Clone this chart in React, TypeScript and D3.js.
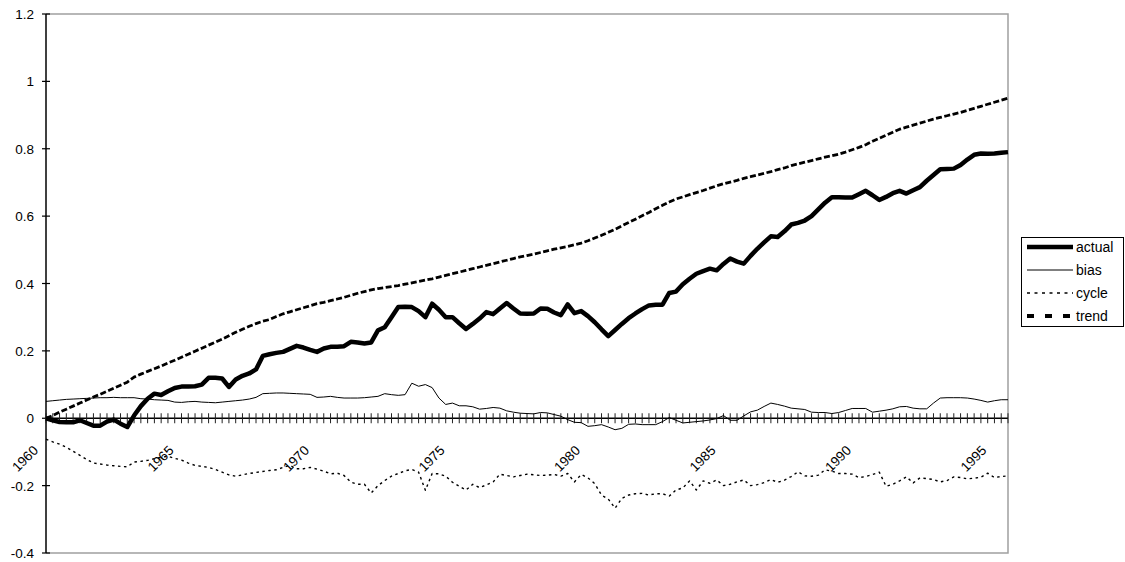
import React from "react";
import * as d3 from "d3";

// Quarterly observations, 1960Q1 onward
const startYear = 1960;
const yearLabels = ["1960", "1965", "1970", "1975", "1980", "1985", "1990", "1995"];
const yTicks = [-0.4, -0.2, 0, 0.2, 0.4, 0.6, 0.8, 1, 1.2];

const actual = [
  0.000, -0.006, -0.011, -0.012, -0.012, -0.006, -0.014, -0.022, -0.022, -0.010,
  -0.004, -0.016, -0.026, 0.008, 0.036, 0.058, 0.073, 0.069, 0.080, 0.090,
  0.094, 0.094, 0.095, 0.100, 0.120, 0.120, 0.118, 0.093, 0.115, 0.126,
  0.133, 0.145, 0.185, 0.190, 0.194, 0.197, 0.206, 0.215, 0.210, 0.203,
  0.197, 0.207, 0.212, 0.212, 0.214, 0.227, 0.225, 0.222, 0.225, 0.261,
  0.270, 0.300, 0.330, 0.331, 0.330, 0.318, 0.300, 0.340, 0.322, 0.300,
  0.300, 0.282, 0.265, 0.280, 0.296, 0.315, 0.309, 0.326, 0.342, 0.326,
  0.311, 0.310, 0.311, 0.326, 0.325, 0.314, 0.306, 0.338, 0.312, 0.318,
  0.303, 0.285, 0.264, 0.244, 0.262, 0.280, 0.297, 0.311, 0.324, 0.335,
  0.337, 0.337, 0.372, 0.376, 0.398, 0.414, 0.429, 0.437, 0.444, 0.439,
  0.458, 0.474, 0.465, 0.459, 0.482, 0.503, 0.522, 0.540, 0.538, 0.555,
  0.575, 0.580, 0.587, 0.600, 0.620, 0.640, 0.656, 0.656, 0.655, 0.655,
  0.665, 0.675, 0.662, 0.648, 0.657, 0.668, 0.675, 0.667, 0.677, 0.686,
  0.705, 0.722, 0.739, 0.740, 0.741, 0.752, 0.768, 0.782, 0.786, 0.785,
  0.786, 0.788, 0.790,
];

const bias = [
  0.050, 0.052, 0.054, 0.056, 0.057, 0.058, 0.059, 0.060, 0.061, 0.061,
  0.062, 0.061, 0.061, 0.061, 0.058, 0.057, 0.055, 0.054, 0.053, 0.048,
  0.047, 0.049, 0.050, 0.048, 0.047, 0.046, 0.048, 0.050, 0.052, 0.054,
  0.057, 0.062, 0.073, 0.074, 0.075, 0.075, 0.074, 0.073, 0.072, 0.071,
  0.062, 0.063, 0.065, 0.062, 0.060, 0.060, 0.060, 0.061, 0.063, 0.065,
  0.073, 0.070, 0.068, 0.070, 0.104, 0.095, 0.100, 0.091, 0.060, 0.041,
  0.045, 0.037, 0.037, 0.034, 0.027, 0.029, 0.032, 0.030, 0.022, 0.018,
  0.015, 0.014, 0.013, 0.017, 0.016, 0.011, 0.006, -0.004, -0.012, -0.013,
  -0.024, -0.022, -0.019, -0.026, -0.034, -0.030, -0.018, -0.017, -0.019, -0.019,
  -0.019, -0.010, 0.002, -0.006, -0.014, -0.012, -0.010, -0.008, -0.005, -0.001,
  0.008, -0.006, -0.006, 0.007, 0.019, 0.024, 0.035, 0.045, 0.041, 0.036,
  0.030, 0.028, 0.026, 0.018, 0.017, 0.017, 0.014, 0.017, 0.023, 0.029,
  0.029, 0.029, 0.018, 0.021, 0.024, 0.028, 0.034, 0.035, 0.030, 0.028,
  0.028, 0.045, 0.060, 0.061, 0.061, 0.061, 0.060, 0.057, 0.053, 0.048,
  0.052, 0.055, 0.055,
];

const cycle = [
  -0.062, -0.070, -0.077, -0.086, -0.098, -0.110, -0.122, -0.133, -0.136, -0.139,
  -0.141, -0.143, -0.144, -0.130, -0.128, -0.125, -0.120, -0.116, -0.113, -0.119,
  -0.124, -0.133, -0.140, -0.143, -0.146, -0.152, -0.160, -0.168, -0.172, -0.168,
  -0.164, -0.161, -0.158, -0.155, -0.153, -0.146, -0.140, -0.150, -0.150, -0.146,
  -0.151, -0.157, -0.165, -0.163, -0.170, -0.190, -0.196, -0.196, -0.222, -0.200,
  -0.185, -0.172, -0.164, -0.156, -0.152, -0.160, -0.214, -0.164, -0.165, -0.172,
  -0.190, -0.202, -0.213, -0.196, -0.206, -0.198, -0.189, -0.166, -0.170, -0.174,
  -0.170, -0.166, -0.168, -0.170, -0.169, -0.167, -0.172, -0.164, -0.189, -0.167,
  -0.177, -0.194, -0.228, -0.240, -0.267, -0.238, -0.228, -0.224, -0.223, -0.228,
  -0.224, -0.224, -0.231, -0.213, -0.207, -0.186, -0.213, -0.186, -0.193, -0.183,
  -0.200, -0.196, -0.189, -0.183, -0.200, -0.197, -0.191, -0.182, -0.190, -0.184,
  -0.173, -0.159, -0.171, -0.172, -0.169, -0.153, -0.157, -0.164, -0.164, -0.166,
  -0.176, -0.173, -0.167, -0.160, -0.202, -0.196, -0.186, -0.174, -0.192, -0.177,
  -0.179, -0.182, -0.189, -0.185, -0.174, -0.176, -0.180, -0.178, -0.175, -0.163,
  -0.176, -0.173, -0.171,
];

const trend = [
  0.000, 0.008, 0.018, 0.027, 0.036, 0.045, 0.054, 0.063, 0.071, 0.080,
  0.089, 0.098, 0.107, 0.122, 0.131, 0.139, 0.147, 0.155, 0.164, 0.172,
  0.181, 0.190, 0.199, 0.208, 0.217, 0.226, 0.235, 0.245, 0.255, 0.264,
  0.273, 0.281, 0.288, 0.293, 0.302, 0.310, 0.316, 0.322, 0.328, 0.334,
  0.340, 0.344, 0.349, 0.354, 0.359, 0.365, 0.371, 0.376, 0.381, 0.385,
  0.388, 0.391, 0.394, 0.398, 0.402, 0.406, 0.410, 0.414, 0.419, 0.424,
  0.429, 0.434, 0.439, 0.444, 0.449, 0.454, 0.459, 0.464, 0.469, 0.474,
  0.479, 0.483, 0.487, 0.492, 0.497, 0.502, 0.506, 0.510, 0.515, 0.520,
  0.527, 0.535, 0.543, 0.552, 0.561, 0.571, 0.581, 0.591, 0.601, 0.611,
  0.622, 0.632, 0.642, 0.651, 0.657, 0.664, 0.670, 0.676, 0.683, 0.690,
  0.696, 0.701, 0.706, 0.712, 0.717, 0.722, 0.727, 0.732, 0.738, 0.743,
  0.750, 0.755, 0.760, 0.765, 0.770, 0.775, 0.779, 0.784, 0.790, 0.797,
  0.804, 0.812, 0.822, 0.831, 0.840, 0.849, 0.858, 0.864, 0.870, 0.876,
  0.882, 0.888, 0.893, 0.898, 0.903, 0.908, 0.914, 0.920, 0.926, 0.932,
  0.938, 0.944, 0.950,
];

const seriesNames = ["actual", "bias", "cycle", "trend"];

const W = 1125;
const H = 562;
const plot = { left: 46, right: 1008, top: 14, bottom: 553 };
const FONT = "'Liberation Sans', Arial, Helvetica, sans-serif";

type Style = { width: number; dash?: string; legendWidth: number; legendDash?: string };
const styles: Record<string, Style> = {
  actual: { width: 4.5, legendWidth: 4.5 },
  bias: { width: 1, legendWidth: 1 },
  cycle: { width: 1.4, dash: "2.5 3.5", legendWidth: 1.4, legendDash: "3 4.5" },
  trend: { width: 2.8, dash: "6 2.5", legendWidth: 4, legendDash: "7 11" },
};

export default function App() {
  const n = actual.length;
  const x = d3.scaleLinear().domain([0, n - 1]).range([plot.left, plot.right]);
  const y = d3.scaleLinear().domain([-0.4, 1.2]).range([plot.bottom, plot.top]);
  const line = d3
    .line<number>()
    .x((_, i) => x(i))
    .y((d) => y(d));

  const data: Record<string, number[]> = { actual, bias, cycle, trend };
  const y0 = y(0);
  const idx = d3.range(n);

  return (
    <svg
      width={W}
      height={H}
      style={{ position: "absolute", left: 0, top: 0, background: "#fff" }}
      fontFamily={FONT}
    >
      <rect x={0} y={0} width={W} height={H} fill="#fff" />
      {/* plot area border */}
      <path
        d={`M${plot.left},${plot.top}H${plot.right}V${plot.bottom}H${plot.left}`}
        fill="none"
        stroke="#a0a0a0"
        strokeWidth={1.5}
      />
      {/* value axis */}
      <line x1={plot.left} x2={plot.left} y1={plot.top} y2={plot.bottom} stroke="#000" strokeWidth={1.5} />
      {yTicks.map((t) => (
        <g key={t}>
          <line x1={plot.left - 4} x2={plot.left + 4} y1={y(t)} y2={y(t)} stroke="#000" strokeWidth={1.2} />
          <text x={34} y={y(t) + 5} textAnchor="end" fontSize={13.5} fill="#000">
            {String(t)}
          </text>
        </g>
      ))}
      {/* category axis crossing at zero */}
      <line x1={plot.left} x2={plot.right} y1={y0} y2={y0} stroke="#000" strokeWidth={1.5} />
      {idx.map((i) => (
        <line key={i} x1={x(i)} x2={x(i)} y1={y0 - 5} y2={y0 + 5} stroke="#222" strokeWidth={1} />
      ))}
      {yearLabels.map((lab) => {
        const i = (Number(lab) - startYear) * 4;
        const tx = x(i) - 7;
        const ty = y0 + 33;
        return (
          <text
            key={lab}
            x={tx}
            y={ty}
            textAnchor="end"
            fontSize={13.5}
            fill="#000"
            transform={`rotate(-45 ${tx} ${ty})`}
          >
            {lab}
          </text>
        );
      })}
      {/* series */}
      {seriesNames.map((name) => (
        <path
          key={name}
          d={line(data[name]) ?? ""}
          fill="none"
          stroke="#000"
          strokeWidth={styles[name].width}
          strokeDasharray={styles[name].dash}
          strokeLinejoin="round"
        />
      ))}
      {/* legend */}
      <g>
        <rect x={1021.5} y={237.5} width={102} height={89} fill="#fff" stroke="#000" strokeWidth={1} />
        {seriesNames.map((name, k) => {
          const ly = 247 + k * 23;
          return (
            <g key={name}>
              <line
                x1={1027}
                x2={1073}
                y1={ly}
                y2={ly}
                stroke="#000"
                strokeWidth={styles[name].legendWidth}
                strokeDasharray={styles[name].legendDash}
              />
              <text x={1076} y={ly + 5} fontSize={14} fill="#000">
                {name}
              </text>
            </g>
          );
        })}
      </g>
    </svg>
  );
}
